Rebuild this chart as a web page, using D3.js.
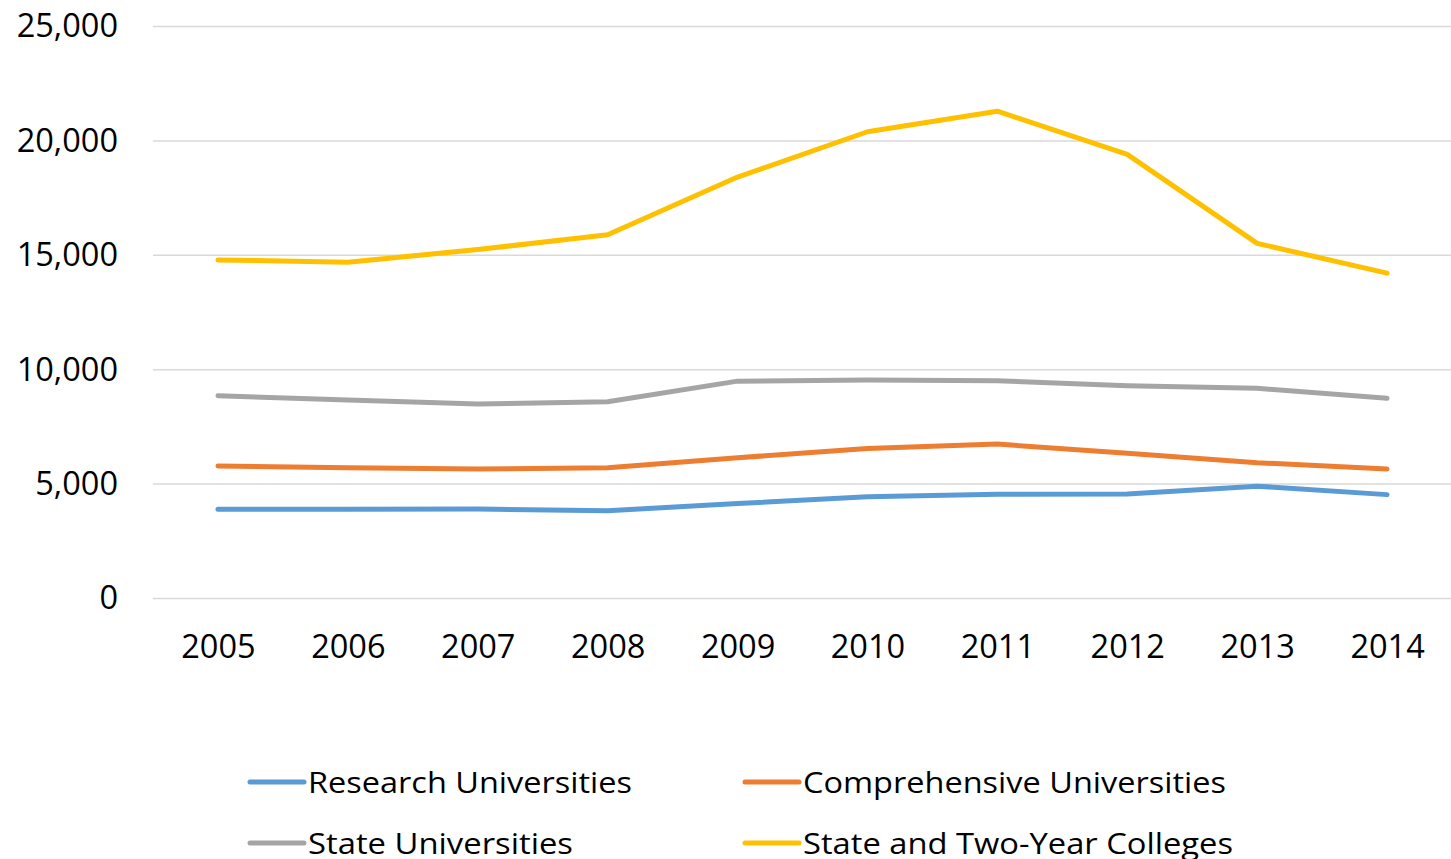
<!DOCTYPE html>
<html><head><meta charset="utf-8">
<script src="https://cdn.jsdelivr.net/npm/d3@7"></script>
<style>html,body{margin:0;padding:0;background:#fff;overflow:hidden}</style>
</head><body>
<svg id="chart" width="1451" height="859"></svg>
<script>
const years = ["2005","2006","2007","2008","2009","2010","2011","2012","2013","2014"];
const seriesNames = ["Research Universities","Comprehensive Universities","State Universities","State and Two-Year Colleges"];
const research      = [3900, 3900, 3910, 3840, 4150, 4450, 4560, 4570, 4910, 4540];
const comprehensive = [5790, 5720, 5660, 5710, 6150, 6560, 6750, 6345, 5935, 5660];
const stateUniv     = [8860, 8680, 8500, 8600, 9500, 9550, 9520, 9300, 9185, 8750];
const twoYear       = [14800, 14700, 15250, 15900, 18420, 20400, 21300, 19410, 15520, 14220];
const yTicks = [0, 5000, 10000, 15000, 20000, 25000];
const colors = ["#5B9BD5","#ED7D31","#A5A5A5","#FFC000"];
const allSeries = [research, comprehensive, stateUniv, twoYear];

const svg = d3.select("#chart");
const x = d3.scalePoint().domain(years).range([153, 1452]).padding(0.5);
const y = d3.scaleLinear().domain([0, 25000]).range([598.5, 26.5]);

// gridlines
svg.append("g").selectAll("line").data(yTicks).join("line")
  .attr("x1", 153).attr("x2", 1451)
  .attr("y1", d => y(d)).attr("y2", d => y(d))
  .attr("stroke", "#D9D9D9").attr("stroke-width", 1.5);

// y axis
const yAxis = svg.append("g").attr("transform", "translate(128,0)")
  .call(d3.axisLeft(y).tickValues(yTicks).tickSize(0).tickPadding(10).tickFormat(d3.format(",")));
yAxis.select(".domain").remove();
yAxis.selectAll("text").attr("font-family", "'Open Sans', sans-serif").attr("font-size", 32.5).attr("fill", "#000");

// x axis
const xAxis = svg.append("g").attr("transform", "translate(0,598.5)")
  .call(d3.axisBottom(x).tickSize(0).tickPadding(36));
xAxis.select(".domain").remove();
xAxis.selectAll("text").attr("font-family", "'Open Sans', sans-serif").attr("font-size", 32.5).attr("fill", "#000");

// lines
const line = d3.line().x((d, i) => x(years[i])).y(d => y(d));
svg.append("g").selectAll("path").data(allSeries).join("path")
  .attr("d", d => line(d))
  .attr("fill", "none")
  .attr("stroke", (d, i) => colors[i])
  .attr("stroke-width", 5)
  .attr("stroke-linejoin", "round")
  .attr("stroke-linecap", "round");

// legend
const legendPos = [
  {sx: 250, ty: 782, w: 324},
  {sx: 745, ty: 782, w: 423},
  {sx: 250, ty: 843, w: 265},
  {sx: 745, ty: 843, w: 430}
];
const lg = svg.append("g").selectAll("g").data(seriesNames).join("g");
lg.append("line")
  .attr("x1", (d, i) => legendPos[i].sx).attr("x2", (d, i) => legendPos[i].sx + 54)
  .attr("y1", (d, i) => legendPos[i].ty).attr("y2", (d, i) => legendPos[i].ty)
  .attr("stroke", (d, i) => colors[i]).attr("stroke-width", 5).attr("stroke-linecap", "round");
lg.append("text")
  .attr("x", (d, i) => legendPos[i].sx + 58)
  .attr("y", (d, i) => legendPos[i].ty + 11)
  .attr("font-family", "'Open Sans', sans-serif").attr("font-size", 29).attr("fill", "#000")
  .attr("textLength", (d, i) => legendPos[i].w).attr("lengthAdjust", "spacingAndGlyphs")
  .text(d => d);
</script>
</body></html>
